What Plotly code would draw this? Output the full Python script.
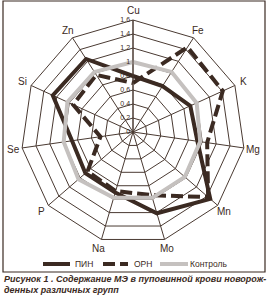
import math
import plotly.graph_objects as go

categories = ["Cu", "Fe", "K", "Mg", "Mn", "Mo", "Na", "P", "Se", "Si", "Zn"]
pin = [0.80, 0.78, 0.90, 0.93, 1.46, 1.21, 0.90, 0.90, 0.88, 1.26, 1.24]
orn = [0.70, 1.44, 1.41, 1.07, 1.42, 0.94, 0.88, 0.86, 0.47, 0.94, 0.97]
control = [1.00, 1.02, 1.00, 0.97, 0.98, 0.98, 0.98, 1.03, 1.00, 1.03, 1.02]
radial_ticks = [0, 0.2, 0.4, 0.6, 0.8, 1, 1.2, 1.4, 1.6]
radial_ticktext = ["0", "0.2", "0.4", "0.6", "0.8", "1", "1.2", "1.4", "1.6"]
series_names = ["ПИН", "ОРН", "Контроль"]
caption_lines = ["Рисунок 1 . Содержание МЭ в пуповинной крови новорож-",
                 "денных различных групп"]

W, H = 267, 295
DARK = "#3b2a22"
GRAY = "#c5c1bf"
GRID = "#4a3a32"
DASH = "12px,5px"

def closed(v):
    return list(v) + [v[0]]

theta = closed(categories)

fig = go.Figure()
fig.add_trace(go.Scatterpolar(r=closed(pin), theta=theta, mode="lines", name=series_names[0],
                              line=dict(color=DARK, width=4), showlegend=False))
fig.add_trace(go.Scatterpolar(r=closed(orn), theta=theta, mode="lines", name=series_names[1],
                              line=dict(color=DARK, width=4, dash=DASH), showlegend=False))
fig.add_trace(go.Scatterpolar(r=closed(control), theta=theta, mode="lines", name=series_names[2],
                              line=dict(color=GRAY, width=4), showlegend=False))

cx, cy, R = 133, 132, 112
shapes = [dict(type="rect", xref="paper", yref="paper",
               x0=3 / W, x1=265 / W, y0=(H - 272) / H, y1=(H - 1) / H,
               line=dict(color=DARK, width=1.2))]
annotations = []

# category labels around the web
label_px = 121
n = len(categories)
for i, c in enumerate(categories):
    a = math.radians(i * 360 / n)
    px = cx + label_px * math.sin(a)
    py = cy - label_px * math.cos(a)
    annotations.append(dict(xref="paper", yref="paper", x=px / W, y=(H - py) / H,
                            xanchor="center", yanchor="middle", showarrow=False, text=c,
                            font=dict(size=10, color=DARK)))

# caption
for k, (line, yy) in enumerate(zip(caption_lines, [279, 290])):
    annotations.append(dict(xref="paper", yref="paper", x=2 / W, y=(H - yy) / H,
                            xanchor="left", yanchor="middle", showarrow=False,
                            text="<b><i>" + line + "</i></b>",
                            font=dict(size=9, color=DARK)))

# manual legend
leg_y = (H - 264) / H
leg_items = [(43, 70, DARK, "solid", 73), (103, 128, DARK, DASH, 132), (160, 188, GRAY, "solid", 188)]
for (x0, x1, col, dash, tx), name in zip(leg_items, series_names):
    shapes.append(dict(type="line", xref="paper", yref="paper", x0=x0 / W, x1=x1 / W,
                       y0=leg_y, y1=leg_y, line=dict(color=col, width=4, dash=dash)))
    annotations.append(dict(xref="paper", yref="paper", x=tx / W, y=leg_y, xanchor="left",
                            yanchor="middle", showarrow=False, text=name,
                            font=dict(size=8.5, color=DARK)))

fig.update_layout(
    width=W, height=H,
    margin=dict(l=0, r=0, t=0, b=0),
    paper_bgcolor="white",
    plot_bgcolor="white",
    font=dict(family="Liberation Sans, Arial, sans-serif", color=DARK),
    polar=dict(
        domain=dict(x=[(cx - R) / W, (cx + R) / W], y=[(H - cy - R) / H, (H - cy + R) / H]),
        gridshape="linear",
        bgcolor="white",
        radialaxis=dict(range=[0, 1.6], tickvals=radial_ticks, ticktext=radial_ticktext,
                        angle=90, tickangle=90, side="counterclockwise",
                        showline=True, linecolor=GRID, linewidth=1,
                        gridcolor=GRID, gridwidth=0.8, ticks="",
                        tickfont=dict(size=7, color=DARK)),
        angularaxis=dict(direction="clockwise", rotation=90, showline=True,
                         linecolor=GRID, linewidth=1, gridcolor=GRID, gridwidth=0.8,
                         ticks="", showticklabels=False),
    ),
    showlegend=False,
    shapes=shapes,
    annotations=annotations,
)

fig.write_html("out.html")
